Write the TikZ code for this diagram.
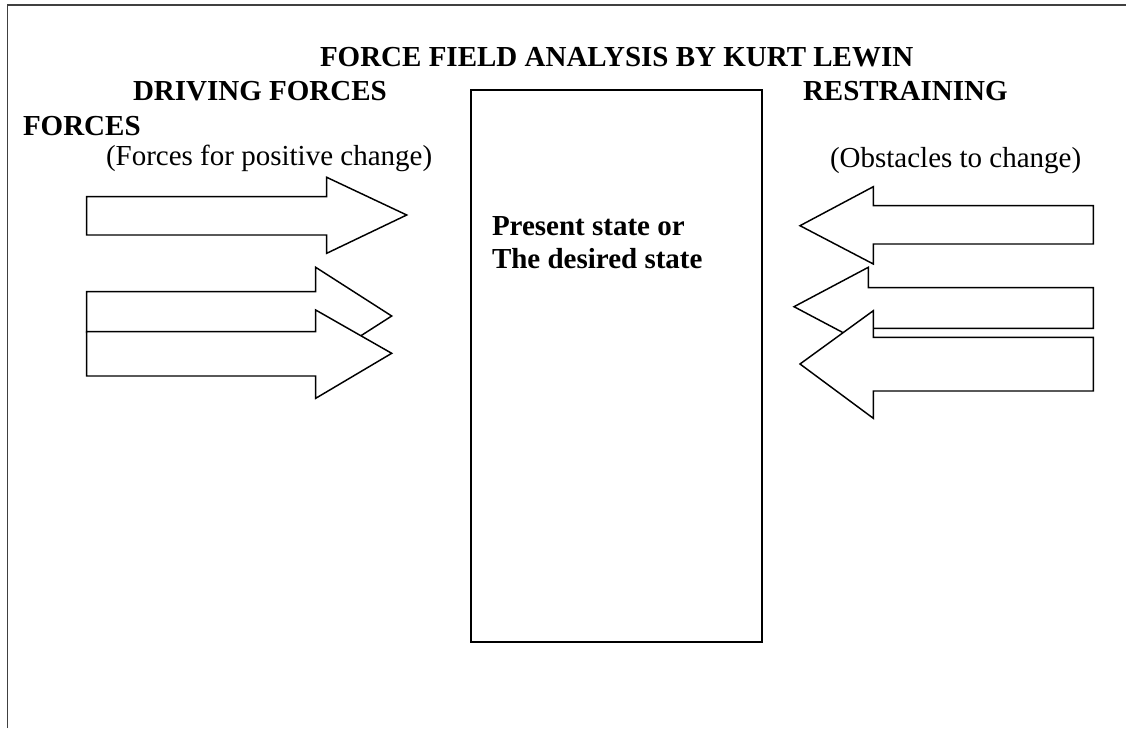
\documentclass[tikz,border=0pt]{standalone}
\usepackage{fontspec}
\setmainfont{Liberation Serif}
\begin{document}
\begin{tikzpicture}[x=0.75pt,y=-0.75pt,
  lbl/.style={anchor=base west,inner sep=0pt,outer sep=0pt},
  bigbold/.style={lbl,font=\fontsize{21.75}{26}\selectfont\bfseries},
  plain/.style={lbl,font=\fontsize{21.75}{26}\selectfont},
  fatarrow/.style={draw=black,fill=white,line width=1.1pt,line join=miter},
  frameline/.style={draw=black!75,line width=1.3pt},
  statebox/.style={draw=black,line width=1.3pt}]
\useasboundingbox (0,0) rectangle (1126,728);
% open frame
\draw[frameline] (7.5,728) -- (7.5,5) -- (1126,5);
% central box
\draw[statebox] (471,90) rectangle (762,642);
% texts
\node[bigbold] (title) at (320,66) {FORCE FIELD ANALYSIS BY KURT LEWIN};
\node[bigbold] (driving) at (133,100) {DRIVING FORCES};
\node[bigbold] (restraining) at (803,100) {RESTRAINING};
\node[bigbold] (forces) at (23,135) {FORCES};
\node[plain] (positive) at (106,165) {(Forces for positive change)};
\node[plain] (obstacles) at (830,167) {(Obstacles to change)};
\node[bigbold] (present) at (492,235) {Present state or};
\node[bigbold] (desired) at (492,268) {The desired state};
% driving arrows
\draw[fatarrow] (86.7,196.7) -- (326.7,196.7) -- (326.7,177.3) -- (406.7,215) -- (326.7,253.3) -- (326.7,235) -- (86.7,235) -- cycle;
\draw[fatarrow] (86.7,291.7) -- (315.7,291.7) -- (315.7,267.3) -- (391.7,316) -- (315.7,364.7) -- (315.7,332.3) -- (86.7,332.3) -- cycle;
\draw[fatarrow] (86.7,331.7) -- (315.7,331.7) -- (315.7,310) -- (391.7,353.3) -- (315.7,398.3) -- (315.7,376) -- (86.7,376) -- cycle;
% restraining arrows
\draw[fatarrow] (800,225.7) -- (873.3,186.7) -- (873.3,205.7) -- (1093.3,205.7) -- (1093.3,244) -- (873.3,244) -- (873.3,264) -- cycle;
\draw[fatarrow] (794,306.7) -- (868.3,267.3) -- (868.3,287.7) -- (1093.3,287.7) -- (1093.3,328.3) -- (868.3,328.3) -- (868.3,346) -- cycle;
\draw[fatarrow] (800,364) -- (873.3,310.7) -- (873.3,337.3) -- (1093.3,337.3) -- (1093.3,391) -- (873.3,391) -- (873.3,418.3) -- cycle;
\end{tikzpicture}
\end{document}
